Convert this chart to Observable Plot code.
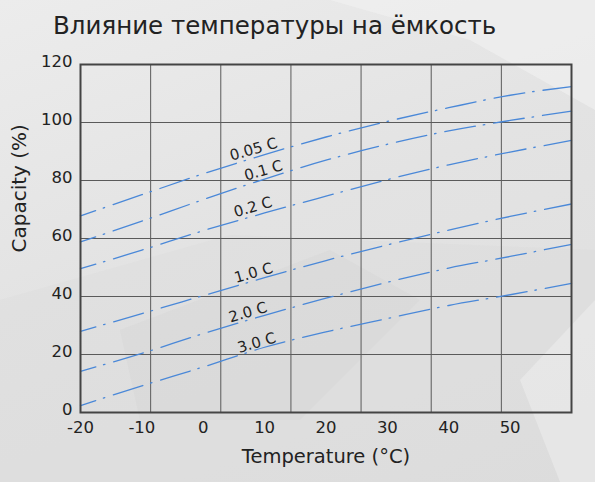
<!DOCTYPE html>
<html>
<head>
<meta charset="utf-8">
<script src="https://cdn.jsdelivr.net/npm/d3@7"></script>
<script src="https://cdn.jsdelivr.net/npm/@observablehq/plot@0.6"></script>
<style>
  html, body { margin: 0; padding: 0; }
  #wrap { position: relative; width: 595px; height: 482px; overflow: hidden;
    background: linear-gradient(160deg, #ececec 0%, #e3e3e3 45%, #dedede 100%);
    font-family: "DejaVu Sans", sans-serif; }
  #bg { position: absolute; left: 0; top: 0; }
  #title { position: absolute; left: 53px; top: 14px; font-size: 24.5px; line-height: 1;
    color: #222; white-space: nowrap; }
  #chart { position: absolute; left: 0; top: 0; }
</style>
</head>
<body>
<div id="wrap">
  <svg id="bg" width="595" height="482">
    <polygon points="330,0 595,0 595,110 470,40" fill="#f2f2f2" opacity="0.6"/>
    <polygon points="0,300 230,235 595,250 595,482 0,482" fill="#d6d6d6" opacity="0.25"/>
    <polygon points="120,330 330,250 420,300 300,420 140,420" fill="#cfcfcf" opacity="0.25"/>
    <polygon points="520,380 595,300 595,482 560,482" fill="#f0f0f0" opacity="0.5"/>
  </svg>
  <div id="title">Влияние температуры на ёмкость</div>
  <div id="chart"></div>
</div>
<script>
// ---- data ----
const temps = [-20, -10, 0, 10, 20, 30, 40, 50, 60];
const rates = ["0.05 C", "0.1 C", "0.2 C", "1.0 C", "2.0 C", "3.0 C"];
const cap005 = [67.8, 75.1, 82.3, 88.9, 95.0, 100.4, 105.1, 109.4, 112.4];
const cap01  = [58.8, 66.0, 73.4, 80.5, 87.0, 92.5, 97.1, 100.7, 103.9];
const cap02  = [49.6, 56.0, 62.7, 68.8, 74.6, 80.3, 85.4, 89.8, 93.8];
const cap10  = [28.0, 34.1, 40.3, 46.5, 52.4, 57.8, 62.9, 67.6, 71.9];
const cap20  = [14.2, 20.4, 27.2, 33.5, 39.4, 44.9, 49.8, 53.8, 58.0];
const cap30  = [2.4, 9.2, 15.7, 22.5, 27.8, 32.4, 36.9, 40.6, 44.5];
const labelTemp = [8.2, 9.8, 8.1, 8.2, 7.3, 8.7];
const labelCap  = [90.7, 83.4, 70.8, 48.1, 34.5, 24.0];
const xTicks = [-20, -10, 0, 10, 20, 30, 40, 50];
const yTicks = [0, 20, 40, 60, 80, 100, 120];
const xDomain = [-20, 60];
const xGridDivisions = 7;

const series = [cap005, cap01, cap02, cap10, cap20, cap30];
const rows = rates.flatMap((r, i) => temps.map((t, j) => ({rate: r, t, cap: series[i][j]})));
const labels = rates.map((r, i) => ({text: r, t: labelTemp[i], cap: labelCap[i]}));
const xGrid = d3.range(xGridDivisions + 1).map(i => xDomain[0] + i * (xDomain[1] - xDomain[0]) / xGridDivisions);

const chart = Plot.plot({
  width: 595,
  height: 482,
  marginLeft: 80,
  marginRight: 24,
  marginTop: 64,
  marginBottom: 70,
  style: {background: "transparent", fontFamily: "DejaVu Sans, sans-serif", color: "#222"},
  x: {domain: xDomain},
  y: {domain: [0, 120]},
  marks: [
    Plot.gridY(yTicks, {stroke: "#5a5a5a", strokeOpacity: 1, strokeWidth: 1}),
    Plot.gridX(xGrid, {stroke: "#5a5a5a", strokeOpacity: 1, strokeWidth: 1}),
    Plot.line(rows, {x: "t", y: "cap", z: "rate", stroke: "#4a88d8", strokeWidth: 1.3,
      strokeDasharray: "31,8,1.5,9", strokeDashoffset: 15, curve: "monotone-x"}),
    Plot.text(labels, {x: "t", y: "cap", text: "text", rotate: -16, fontSize: 15, fill: "#222"}),
    Plot.frame({stroke: "#444", strokeWidth: 2}),
    Plot.axisY(yTicks, {tickSize: 0, tickPadding: 8, fontSize: 16.5, label: null, fill: "#222", dy: -3}),
    Plot.axisX(xTicks, {tickSize: 0, tickPadding: 9, fontSize: 16.5, label: null, fill: "#222",
      tickFormat: d => String(d)}),
    Plot.text(["Temperature (°C)"], {frameAnchor: "bottom", dy: 50, fontSize: 19.5, fill: "#222"}),
    Plot.text(["Capacity (%)"], {frameAnchor: "left", dx: -61, dy: 14, rotate: -90, fontSize: 20, fill: "#222"})
  ]
});
document.getElementById("chart").appendChild(chart);
</script>
</body>
</html>
